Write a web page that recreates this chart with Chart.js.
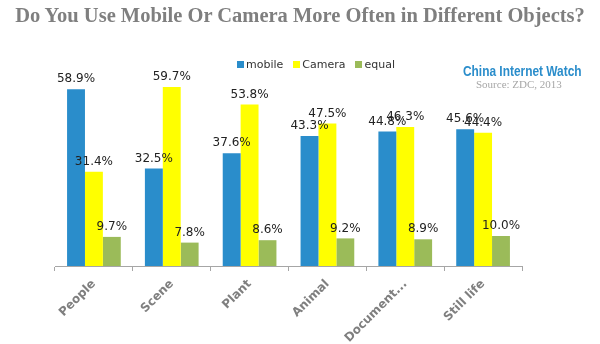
<!DOCTYPE html>
<html>
<head>
<meta charset="utf-8">
<script src="https://cdn.jsdelivr.net/npm/chart.js@4/dist/chart.umd.min.js"></script>
<style>
  body { margin: 0; background: #fff; }
  #wrap { position: relative; width: 600px; height: 344px; }
  #title { position: absolute; left: 0; top: 4px; width: 600px; text-align: center;
    font: bold 20.5px "Liberation Serif", serif; color: #7f7f7f; white-space: nowrap; }
  #cin { position: absolute; left: 463px; top: 63px; font: bold 14px "Liberation Sans", sans-serif;
    color: #2a8dcb; white-space: nowrap; transform: scaleX(0.85); transform-origin: left top; }
  #src { position: absolute; left: 476px; top: 78px; font: 11px "Liberation Serif", serif; color: #a6a6a6; white-space: nowrap; }
  #legend { position: absolute; left: 237px; top: 58px; font: 11px "DejaVu Sans", sans-serif; color: #333; white-space: nowrap; }
  #legend span.box { display: inline-block; width: 7px; height: 7px; margin-right: 2px; }
  #legend span.item { margin-right: 10px; }
</style>
</head>
<body>
<div id="wrap">
  <canvas id="chart" width="600" height="344"></canvas>
  <div id="title">Do You Use Mobile Or Camera More Often in Different Objects?</div>
  <div id="legend"></div>
  <div id="cin">China Internet Watch</div>
  <div id="src">Source: ZDC, 2013</div>
</div>
<script>
// data
var categories = ["People", "Scene", "Plant", "Animal", "Document...", "Still life"];
var seriesNames = ["mobile", "Camera", "equal"];
var mobile = [58.9, 32.5, 37.6, 43.3, 44.8, 45.6];
var camera = [31.4, 59.7, 53.8, 47.5, 46.3, 44.4];
var equal = [9.7, 7.8, 8.6, 9.2, 8.9, 10.0];
var colors = ["#2a8dcb", "#ffff00", "#9bbb59"];

// legend in html
var legendHtml = "";
seriesNames.forEach(function (n, i) {
  legendHtml += '<span class="item"><span class="box" style="background:' + colors[i] + '"></span>' + n + '</span>';
});
document.getElementById("legend").innerHTML = legendHtml;

// values above bars
var valueLabels = {
  id: "valueLabels",
  afterDatasetsDraw: function (chart) {
    var c = chart.ctx;
    c.save();
    c.font = '12px "DejaVu Sans", sans-serif';
    c.fillStyle = "#222";
    c.textAlign = "center";
    c.textBaseline = "bottom";
    chart.data.datasets.forEach(function (ds, i) {
      chart.getDatasetMeta(i).data.forEach(function (bar, j) {
        c.fillText(ds.data[j].toFixed(1) + "%", bar.x, bar.y - 4);
      });
    });
    c.restore();
  }
};

new Chart(document.getElementById("chart").getContext("2d"), {
  type: "bar",
  data: {
    labels: categories,
    datasets: [
      { label: seriesNames[0], data: mobile, backgroundColor: colors[0] },
      { label: seriesNames[1], data: camera, backgroundColor: colors[1] },
      { label: seriesNames[2], data: equal, backgroundColor: colors[2] },
    ],
  },
  options: {
    responsive: false,
    animation: false,
    layout: { padding: { left: 55, right: 78, top: 86, bottom: 0 } },
    datasets: { bar: { categoryPercentage: 0.69, barPercentage: 1 } },
    plugins: { legend: { display: false }, tooltip: { enabled: false } },
    scales: {
      y: { display: false, min: 0, max: 60 },
      x: {
        afterFit: function (scale) { scale.height = 78; },
        border: { color: "#a6a6a6" },
        grid: { drawOnChartArea: false, color: "#a6a6a6", tickLength: 5, offset: true },
        ticks: {
          minRotation: 45, maxRotation: 45, padding: 6,
          color: "#7f7f7f",
          font: { family: "DejaVu Sans", size: 12, weight: "bold" },
        },
      },
    },
  },
  plugins: [valueLabels],
});
</script>
</body>
</html>
